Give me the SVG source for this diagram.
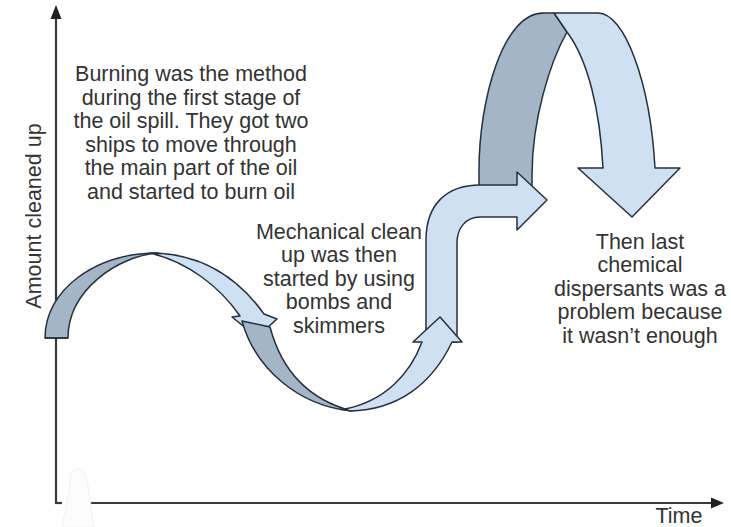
<svg xmlns="http://www.w3.org/2000/svg" width="731" height="527" viewBox="0 0 731 527">
<defs>
<style>
.t{font-family:"Liberation Sans",Arial,sans-serif;font-size:21.5px;fill:#333;text-anchor:middle}
.ax{stroke:#3a3a3a;stroke-width:2.2;fill:none}
.ah{fill:#222}
.dk{fill:#a5b5c8;stroke:#25303c;stroke-width:1.5;stroke-linejoin:round}
.lt{fill:#cfe0f2;stroke:#25303c;stroke-width:1.5;stroke-linejoin:round}
</style>
</defs>
<rect width="731" height="527" fill="#fff"/>
<g id="axes">
<line class="ax" x1="56" y1="16" x2="56" y2="504"/>
<polygon class="ah" points="56,5 50.5,19 61.5,19"/>
<line class="ax" x1="55" y1="503" x2="62" y2="503"/>
<line class="ax" x1="90" y1="503" x2="712" y2="503"/>
<polygon class="ah" points="724,503 711,497.5 711,508.5"/>
<path d="M62,527 C66,505 70,490 70,478 C72,468 80,466 84,472 C88,478 90,500 94,527 Z" fill="#fcfcfc" stroke="#f3f3f3" stroke-width="1"/>
</g>
<g id="arrows">
<g id="arrow-arch-big">
<path class="dk" d="M479,188 L479,170 C479,100 503,13 543,13 L554,13 L567,32 C550,62 532,120 532,175 L532,188 Z"/>
<path class="lt" d="M554,13 L598,13 C624,13 650,80 655,168 L680,168 L632,217 L578,168 L603,168 C600,110 588,60 567,32 Z"/>
</g>
<g id="arrow-bent">
<path class="lt" d="M426,342 L426,240 C426,205 446,185 480,185 L517,185 L517,172 L547,200 L517,230 L517,217 L480,217 C466,217 457,228 457,243 L457,342 Z"/>
</g>
<g id="arrow-hump">
<path class="dk" d="M45,338 C45,290 95,253 158,253 C118,256 68,290 68,338 Z"/>
<path class="lt" d="M150,253 C198,253 236,275 264,314 L277,319 L257,337 L232,317 L240,316 C220,287 188,262 150,253 Z"/>
<line x1="45" y1="338" x2="68" y2="338" stroke="#25303c" stroke-width="1.5"/>
</g>
<g id="arrow-valley">
<path class="dk" d="M242,321 C255,368 298,406 352,411 C310,400 282,372 270,327 Z"/>
<path class="lt" d="M350,411 C398,410 432,384 452,342 L462,342 L440,317 L413,342 L422,342 C410,374 385,401 345,409 Z"/>
</g>
</g>
<g id="label-burning">
<text class="t" x="191" y="81">Burning was the method</text>
<text class="t" x="191" y="104.5">during the first stage of</text>
<text class="t" x="191" y="128">the oil spill. They got two</text>
<text class="t" x="191" y="151.5">ships to move through</text>
<text class="t" x="191" y="175">the main part of the oil</text>
<text class="t" x="191" y="198.5">and started to burn oil</text>
</g>
<g id="label-mechanical">
<text class="t" x="339" y="239">Mechanical clean</text>
<text class="t" x="339" y="262">up was then</text>
<text class="t" x="339" y="285.5">started by using</text>
<text class="t" x="339" y="309">bombs and</text>
<text class="t" x="339" y="332.5">skimmers</text>
</g>
<g id="label-chemical">
<text class="t" x="640" y="249">Then last</text>
<text class="t" x="640" y="272">chemical</text>
<text class="t" x="640" y="295.5">dispersants was a</text>
<text class="t" x="640" y="319">problem because</text>
<text class="t" x="640" y="342.5">it wasn’t enough</text>
</g>
<g id="label-yaxis">
<text class="t" transform="translate(41,216) rotate(-90)">Amount cleaned up</text>
</g>
<g id="label-xaxis">
<text class="t" x="679" y="523">Time</text>
</g>
</svg>
